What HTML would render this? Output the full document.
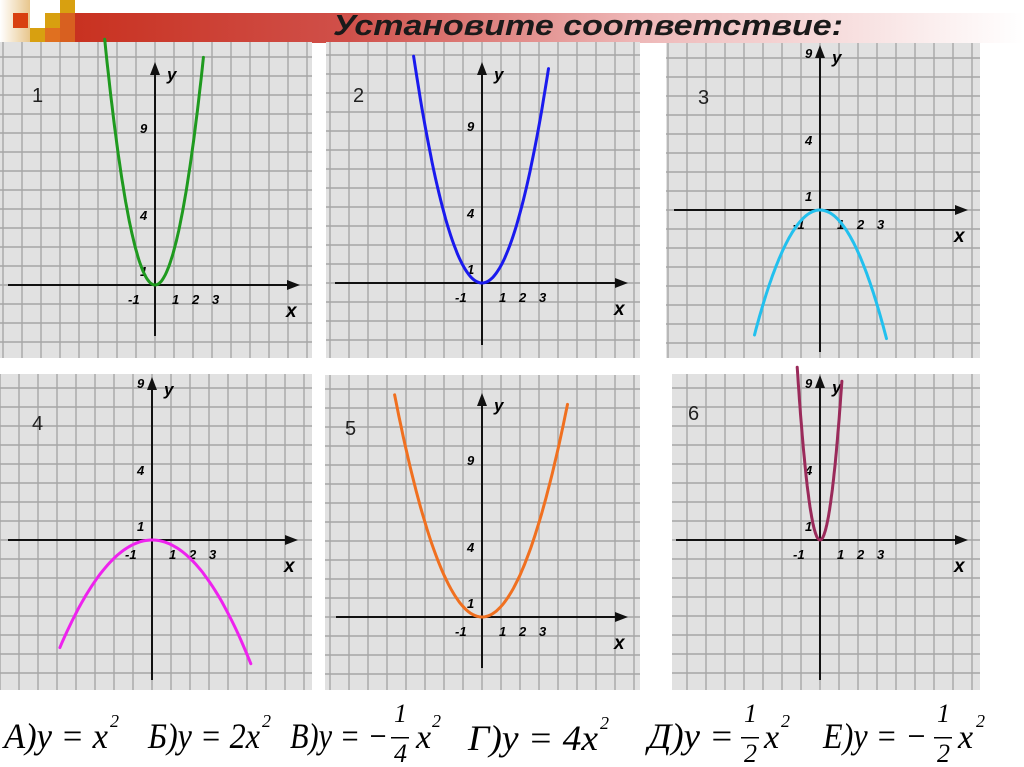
<!DOCTYPE html>
<html><head><meta charset="utf-8">
<style>
html,body{margin:0;padding:0;background:#fff;width:1024px;height:767px;overflow:hidden}
svg{display:block}
</style></head>
<body>
<svg id="s" width="1024" height="767" viewBox="0 0 1024 767" xmlns="http://www.w3.org/2000/svg">
<defs>
<linearGradient id="hg" x1="0" x2="1" y1="0" y2="0">
<stop offset="0" stop-color="#c8301e"/><stop offset="0.3" stop-color="#d0504a"/><stop offset="0.6" stop-color="#eeb8b8"/><stop offset="1" stop-color="#ffffff"/>
</linearGradient>
<linearGradient id="lg" x1="0" x2="1"><stop offset="0" stop-color="#fff"/><stop offset="1" stop-color="#d8a040"/></linearGradient>
</defs>
<g>
<rect x="60" y="13" width="964" height="30" fill="url(#hg)"/>
<rect x="0" y="0" width="30" height="43" fill="url(#lg)" opacity="0.6"/>
<rect x="13" y="13" width="15" height="15" fill="#d84010"/>
<rect x="60" y="0" width="15" height="13" fill="#d8a010"/>
<rect x="45" y="13" width="15" height="15" fill="#d8a010"/>
<rect x="30" y="28" width="15" height="15" fill="#d8a010"/>
<rect x="45" y="28" width="15" height="15" fill="#e07020"/>
<rect x="60" y="13" width="15" height="30" fill="#d86020"/>
</g>
<text x="333" y="35" font-family="Liberation Sans, sans-serif" font-weight="bold" font-style="italic" font-size="29" fill="#1a1a1a" textLength="510" lengthAdjust="spacingAndGlyphs">Установите соответствие:</text>
<g id="panels"></g>
<g id="curves"></g>
<g font-family="Liberation Serif, serif" font-style="italic" fill="#000">
<g><text x="4" y="748" font-size="36" textLength="104" lengthAdjust="spacingAndGlyphs">А)y = x</text><text x="110" y="727" font-size="18">2</text></g>
<g><text x="148" y="748" font-size="36" textLength="112" lengthAdjust="spacingAndGlyphs">Б)y = 2x</text><text x="262" y="727" font-size="18">2</text></g>
<g><text x="290" y="748" font-size="36" textLength="98" lengthAdjust="spacingAndGlyphs">В)y = −</text><text x="394" y="722" font-size="26">1</text><rect x="391" y="737" width="18" height="1.5" fill="#000"/><text x="394" y="762" font-size="26">4</text><text x="416" y="748" font-size="34">x</text><text x="432" y="727" font-size="18">2</text></g>
<g><text x="468" y="750" font-size="36" textLength="130" lengthAdjust="spacingAndGlyphs">Г)y = 4x</text><text x="600" y="729" font-size="18">2</text></g>
<g><text x="648" y="748" font-size="36" textLength="86" lengthAdjust="spacingAndGlyphs">Д)y =</text><text x="744" y="722" font-size="26">1</text><rect x="741" y="737" width="18" height="1.5" fill="#000"/><text x="744" y="762" font-size="26">2</text><text x="764" y="748" font-size="34">x</text><text x="781" y="727" font-size="18">2</text></g>
<g><text x="823" y="748" font-size="36" textLength="104" lengthAdjust="spacingAndGlyphs">Е)y = −</text><text x="937" y="722" font-size="26">1</text><rect x="934" y="737" width="18" height="1.5" fill="#000"/><text x="937" y="762" font-size="26">2</text><text x="958" y="748" font-size="34">x</text><text x="976" y="727" font-size="18">2</text></g>
</g>
</svg>
<script>
// chart data
const panelNumbers = ["1","2","3","4","5","6"];
const coefficients = [2, 1, -0.5, -0.25, 0.5, 4];
const xMin = [-2.65, -3.6, -3.45, -4.85, -4.6, -1.2];
const xMax = [2.55, 3.5, 3.5, 5.2, 4.5, 1.15];
const yTickLabels = ["9","4","1"];
const xTickLabels = ["-1","1","2","3"];
const curveColors = ["#1f9a1f","#1a1aee","#22c0ee","#ee22ee","#f07020","#9a2a5a"];

// layout (pixel geometry, not data)
const layout = [
 {l:0,t:42,r:312,b:358,ox:155,oy:285,axL:8,axR:300,ayT:62,ayB:336,nx:32,ny:102,yu:17.5,ctop:36},
 {l:326,t:42,r:640,b:358,ox:482,oy:283,axL:335,axR:628,ayT:62,ayB:345,nx:353,ny:102,yu:17.5,ctop:36},
 {l:666,t:43,r:980,b:358,ox:820,oy:210,axL:674,axR:968,ayT:45,ayB:352,nx:698,ny:104,yu:21,ctop:0},
 {l:0,t:374,r:312,b:690,ox:152,oy:540,axL:8,axR:298,ayT:377,ayB:680,nx:32,ny:430,yu:18.3,ctop:0},
 {l:325,t:375,r:640,b:690,ox:482,oy:617,axL:336,axR:628,ayT:393,ayB:668,nx:345,ny:435,yu:21,ctop:0},
 {l:672,t:374,r:980,b:690,ox:820,oy:540,axL:676,axR:968,ayT:375,ayB:680,nx:688,ny:420,yu:30,ctop:358}
];
const XU = 19;
const NS = "http://www.w3.org/2000/svg";
const P = document.getElementById('panels'), C = document.getElementById('curves');
function mk(tag, attrs, parent){const e=document.createElementNS(NS,tag);for(const k in attrs)e.setAttribute(k,attrs[k]);parent.appendChild(e);return e;}
function xs(i,v){return layout[i].ox + v*XU;}
function ys(i,v){return layout[i].oy - v*layout[i].yu;}

layout.forEach((L,i)=>{
  const g = mk('g',{},P);
  
  
  mk('rect',{x:L.l,y:L.t,width:L.r-L.l,height:L.b-L.t,fill:'#e1e1e1'},g);
  let d='';
  for(let x=L.ox-Math.floor((L.ox-L.l)/XU)*XU; x<=L.r; x+=XU) d+=`M${x} ${L.t}V${L.b}`;
  for(let y=L.oy-Math.floor((L.oy-L.t)/XU)*XU; y<=L.b; y+=XU) d+=`M${L.l} ${y}H${L.r}`;
  const grid = mk('path',{d:d,stroke:'#a6a6a6','stroke-width':1.4,fill:'none'},g);
  
  
  const ax = mk('path',{d:`M${L.axL} ${L.oy}H${L.axR-8}M${L.ox} ${L.ayB}V${L.ayT+8}`,stroke:'#111','stroke-width':2,fill:'none'},g);
  
  
  mk('path',{d:`M${L.axR} ${L.oy}l-13 -5v10z M${L.ox} ${L.ayT}l-5 13h10z`,fill:'#111'},g);
  const tf = 'font-family:"Liberation Sans",sans-serif;font-weight:bold;font-style:italic;';
  const yl = mk('text',{x:L.ox+12,y:L.ayT+18,style:tf+'font-size:17px'},g); yl.textContent='у';
  
  
  const xl = mk('text',{x:L.axR-14,y:L.oy+32,style:tf+'font-size:19px'},g); xl.textContent='x';
  
  
  const yo=[157,70,14];
  yTickLabels.forEach((t,k)=>{const e=mk('text',{x:L.ox-15,y:L.oy-yo[k]+5,style:tf+'font-size:13px'},g);e.textContent=t;
    
    });
  const xo=[-27,17,37,57];
  xTickLabels.forEach((t,k)=>{const e=mk('text',{x:L.ox+xo[k],y:L.oy+19,style:tf+'font-size:13px'},g);e.textContent=t;
    
    });
  const n = mk('text',{x:L.nx,y:L.ny,style:'font-family:"Liberation Sans",sans-serif;font-size:20px',fill:'#222'},g); n.textContent=panelNumbers[i];
  
  
});

layout.forEach((L,i)=>{
  let d='';
  const N=80;
  for(let k=0;k<=N;k++){
    const v = xMin[i] + (xMax[i]-xMin[i])*k/N;
    let py = ys(i, coefficients[i]*v*v);
    if(L.ctop && py < L.ctop) continue;
    d += (d?'L':'M') + xs(i,v).toFixed(1)+' '+py.toFixed(1);
  }
  const p = mk('path',{d:d,stroke:curveColors[i],'stroke-width':3,fill:'none','stroke-linecap':'round'},C);
  
  
});
</script>
</body></html>
